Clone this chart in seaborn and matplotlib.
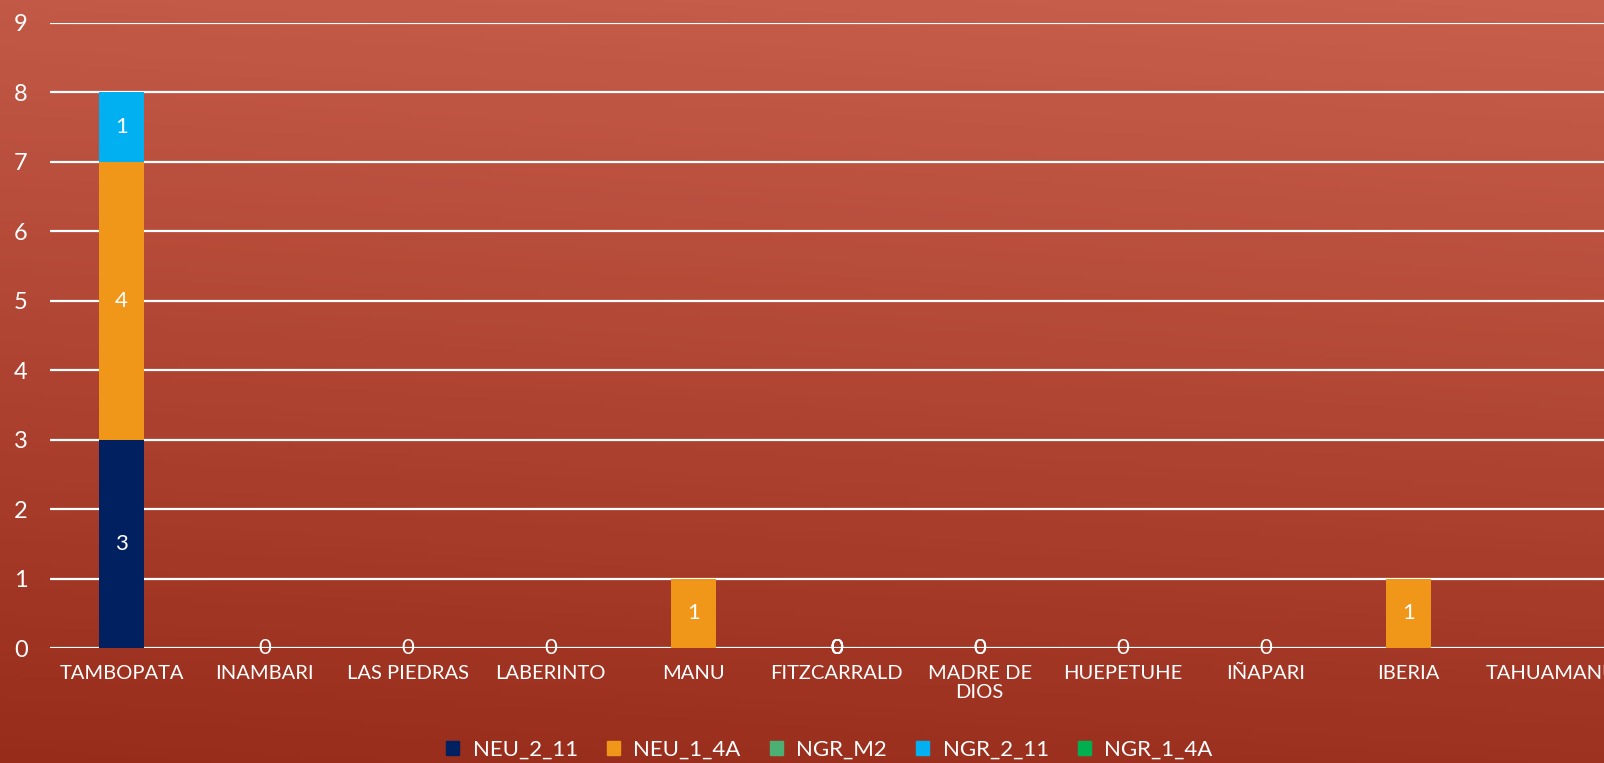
import numpy as np
import pandas as pd
import matplotlib
matplotlib.use("Agg")
import matplotlib.pyplot as plt
from matplotlib.patches import Rectangle
from matplotlib.colors import LinearSegmentedColormap
import seaborn as sns

# datos del grafico
categories = ["TAMBOPATA", "INAMBARI", "LAS PIEDRAS", "LABERINTO", "MANU",
              "FITZCARRALD", "MADRE DE\nDIOS", "HUEPETUHE", "IÑAPARI",
              "IBERIA", "TAHUAMANU"]
series_names = ["NEU_2_11", "NEU_1_4A", "NGR_M2", "NGR_2_11", "NGR_1_4A"]
nan = np.nan
neu_2_11 = [3, 0, 0, 0, nan, 0, 0, 0, 0, nan, nan]
neu_1_4a = [4, nan, nan, nan, 1, 0, 0, nan, nan, 1, nan]
ngr_m2 = [nan, nan, nan, nan, nan, 0, nan, nan, nan, nan, nan]
ngr_2_11 = [1, nan, nan, nan, nan, nan, nan, nan, nan, nan, nan]
ngr_1_4a = [nan, nan, nan, nan, nan, 0, nan, nan, nan, nan, nan]
colors = ["#002060", "#F09619", "#4CAF74", "#00B0F0", "#00B050"]
yticks = list(range(0, 10))

sns.set_style("white")
plt.rcParams["font.family"] = ["Lato", "DejaVu Sans"]
plt.rcParams["hatch.linewidth"] = 1.4

fig = plt.figure(figsize=(16.04, 7.63), dpi=100)

# fondo degradado con rayas
bg = fig.add_axes([0, 0, 1, 1])
yy, xx = np.mgrid[0:1:300j, 0:1:300j]
t = 0.88 * yy + 0.12 * xx
grad = LinearSegmentedColormap.from_list("fondo", ["#AC3824", "#CE5B46", "#EE7F69"])
bg.imshow(t, cmap=grad, vmin=0, vmax=1, origin="lower", extent=[0, 1, 0, 1], aspect="auto")
bg.add_patch(Rectangle((0, 0), 1, 1, facecolor="none", edgecolor=(0.4, 0.06, 0.02, 0.28),
                       hatch="/" * 16, linewidth=0))
bg.set_xlim(0, 1)
bg.set_ylim(0, 1)
bg.set_axis_off()

ax = fig.add_axes([0.0312, 0.1507, 0.9807, 0.8192])
ax.set_facecolor("none")

df = pd.DataFrame({"cat": categories, "NEU_2_11": neu_2_11, "NEU_1_4A": neu_1_4a,
                   "NGR_M2": ngr_m2, "NGR_2_11": ngr_2_11, "NGR_1_4A": ngr_1_4a})
vals = df[series_names].fillna(0)
cum = vals.cumsum(axis=1)

# barras apiladas: se dibuja de la suma total hacia abajo
for i in range(len(series_names) - 1, -1, -1):
    sns.barplot(x=df["cat"], y=cum.iloc[:, i], order=categories, color=colors[i],
                width=0.315, saturation=1, ax=ax, zorder=3, linewidth=0)

# etiquetas de datos
for i, name in enumerate(series_names):
    for j, v in enumerate(df[name]):
        if np.isnan(v):
            continue
        base = cum.iloc[j, i] - vals.iloc[j, i]
        ax.text(j, base + v / 2, f"{int(v)}", ha="center", va="center",
                color="white", fontsize=16, zorder=5)

ax.set_ylim(0, 9)
ax.set_xlim(-0.5, len(categories) - 0.5)
ax.set_yticks(yticks)
ax.yaxis.grid(True, color="white", linewidth=1.6, zorder=1)
ax.set_axisbelow(True)
for s in ax.spines.values():
    s.set_visible(False)
ax.tick_params(axis="both", length=0, colors="white", labelsize=14.5)
ax.tick_params(axis="y", pad=16, labelsize=17)
ax.tick_params(axis="x", pad=12)
ax.set_xlabel("")
ax.set_ylabel("")

handles = [Rectangle((0, 0), 1, 1, color=c) for c in colors]
fig.legend(handles, series_names, loc="center", bbox_to_anchor=(0.517, 0.017),
           ncol=5, frameon=False, fontsize=16, labelcolor="white",
           handlelength=0.6, handleheight=0.6, columnspacing=1.3, handletextpad=0.6)

fig.savefig("out.png", dpi=100)
